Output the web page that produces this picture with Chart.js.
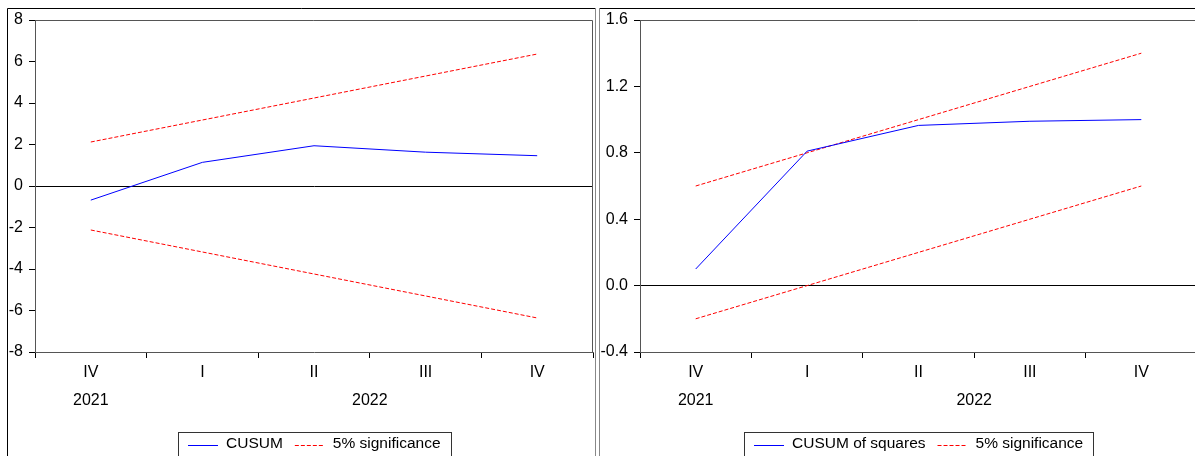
<!DOCTYPE html>
<html>
<head>
<meta charset="utf-8">
<script src="https://cdn.jsdelivr.net/npm/chart.js@4/dist/chart.umd.min.js"></script>
<style>
  html, body { margin: 0; padding: 0; background: #fff; overflow: hidden; width: 1195px; height: 456px; }
  canvas { position: absolute; top: 0; }
  #leftChart { left: 0; }
  #rightChart { left: 597px; }
</style>
</head>
<body>
<canvas id="leftChart" width="597" height="456"></canvas>
<canvas id="rightChart" width="610" height="456"></canvas>
<script>
const quarters = ['IV', 'I', 'II', 'III', 'IV'];
const years = ['2021', '2022'];
const yearFirst = [0, 1];
const yearLast = [0, 4];

const cusum = [-0.68, 1.14, 1.94, 1.63, 1.46];
const cusumUpper = [2.12, 3.18, 4.24, 5.30, 6.36];
const cusumLower = [-2.12, -3.18, -4.24, -5.30, -6.36];

const cusumSq = [0.10, 0.81, 0.965, 0.99, 1.0];
const sqUpper = [0.6, 0.8, 1.0, 1.2, 1.4];
const sqLower = [-0.2, 0.0, 0.2, 0.4, 0.6];

const FONT = "'Liberation Sans', Arial, sans-serif";
const AXIS = '#555555';
const BLUE = 'rgb(0,0,255)';
const RED = 'rgb(255,0,0)';
const DASH = [4, 2];

// plot box, year row, legend box and panel frame
const decor = {
  id: 'decor',
  beforeDraw(chart) {
    const ctx = chart.ctx;
    ctx.save();
    ctx.fillStyle = '#fff';
    ctx.fillRect(0, 0, chart.width, chart.height);
    ctx.restore();
  },
  afterDraw(chart, args, opts) {
    const { ctx, chartArea: a } = chart;
    const x = chart.scales.x;
    ctx.save();

    ctx.strokeStyle = AXIS;
    ctx.lineWidth = 1;
    ctx.beginPath();
    ctx.moveTo(a.left, a.top + 0.5);
    ctx.lineTo(Math.round(a.right) - 0.5, a.top + 0.5);
    ctx.lineTo(Math.round(a.right) - 0.5, a.bottom);
    ctx.stroke();

    // years under the quarters
    ctx.fillStyle = '#000';
    ctx.font = '16px ' + FONT;
    ctx.textAlign = 'center';
    ctx.textBaseline = 'middle';
    years.forEach((y, i) => {
      const cx = (x.getPixelForValue(yearFirst[i]) + x.getPixelForValue(yearLast[i])) / 2;
      ctx.fillText(y, cx, 401);
    });

    // legend
    const items = [
      { label: opts.label, color: BLUE, dashed: false },
      { label: '5% significance', color: RED, dashed: true },
    ];
    ctx.font = '15.5px ' + FONT;
    items.forEach(it => { it.w = ctx.measureText(it.label).width; });
    const boxW = Math.round(10 + 30 + 8 + items[0].w + 12 + 30 + 8 + items[1].w + 10);
    const left = Math.round((a.left + a.right) / 2 - boxW / 2);
    const top = 432;
    ctx.fillStyle = '#fff';
    ctx.fillRect(left, top, boxW, 40);
    ctx.strokeStyle = '#333';
    ctx.strokeRect(left + 0.5, top + 0.5, boxW, 40);
    let px = left + 10;
    items.forEach(it => {
      ctx.fillStyle = it.color;
      if (it.dashed) {
        for (let s = 0; s < 30; s += DASH[0] + DASH[1]) {
          ctx.fillRect(px + s, 445, Math.min(DASH[0], 30 - s), 1);
        }
      } else {
        ctx.fillRect(px, 445, 30, 1);
      }
      px += 38;
      ctx.fillStyle = '#000';
      ctx.textAlign = 'left';
      ctx.fillText(it.label, px, 444);
      px += it.w + 12;
    });

    // panel frame
    ctx.lineWidth = 1;
    if (opts.side === 'left') {
      ctx.strokeStyle = '#000';
      ctx.beginPath();
      ctx.moveTo(7.5, chart.height);
      ctx.lineTo(7.5, 8.5);
      ctx.lineTo(596, 8.5);
      ctx.stroke();
      ctx.strokeStyle = '#888';
      ctx.beginPath();
      ctx.moveTo(595.5, 8);
      ctx.lineTo(595.5, chart.height);
      ctx.stroke();
    } else {
      ctx.strokeStyle = '#000';
      ctx.beginPath();
      ctx.moveTo(2, 8.5);
      ctx.lineTo(chart.width, 8.5);
      ctx.stroke();
      ctx.strokeStyle = '#888';
      ctx.beginPath();
      ctx.moveTo(2.5, 8);
      ctx.lineTo(2.5, chart.height);
      ctx.stroke();
    }
    ctx.restore();
  }
};

function makeChart(id, side, series, upper, lower, label, yMin, yMax, step, yAxisW, padRight, fmt) {
  return new Chart(document.getElementById(id), {
    type: 'line',
    data: {
      labels: quarters,
      datasets: [
        { label: label, data: series, borderColor: BLUE, borderWidth: 1, pointRadius: 0, fill: false, tension: 0 },
        { label: '5% significance', data: upper, borderColor: RED, borderDash: DASH, borderWidth: 1, pointRadius: 0, fill: false, tension: 0 },
        { label: '5% significance', data: lower, borderColor: RED, borderDash: DASH, borderWidth: 1, pointRadius: 0, fill: false, tension: 0 },
      ],
    },
    options: {
      responsive: false,
      animation: false,
      devicePixelRatio: 1,
      layout: { padding: { top: 20, right: padRight, left: 0, bottom: 0 } },
      plugins: {
        legend: { display: false },
        tooltip: { enabled: false },
        decor: { side: side, label: label },
      },
      scales: {
        x: {
          offset: true,
          grid: { offset: true, drawOnChartArea: false, tickLength: 6, color: '#000', tickColor: '#000' },
          border: { color: AXIS },
          ticks: { color: '#000', font: { family: FONT, size: 16 }, padding: 5, maxRotation: 0 },
          afterFit: s => { s.height = 104; },
        },
        y: {
          min: yMin,
          max: yMax,
          ticks: {
            stepSize: step,
            color: '#000',
            font: { family: FONT, size: 16 },
            padding: 6,
            callback: fmt,
          },
          grid: {
            tickLength: 6,
            tickColor: '#000',
            color: c => (c.tick && Math.abs(c.tick.value) < 1e-9 ? '#000' : 'rgba(0,0,0,0)'),
          },
          border: { color: AXIS },
          afterFit: s => { s.width = yAxisW; },
        },
      },
    },
    plugins: [decor],
  });
}

makeChart('leftChart', 'left', cusum, cusumUpper, cusumLower, 'CUSUM', -8, 8, 2, 35, 4,
  v => String(Math.round(v)));
makeChart('rightChart', 'right', cusumSq, sqUpper, sqLower, 'CUSUM of squares', -0.4, 1.6, 0.4, 43, 10,
  v => (Math.abs(v) < 1e-9 ? '0.0' : Number(v).toFixed(1)));
</script>
</body>
</html>
